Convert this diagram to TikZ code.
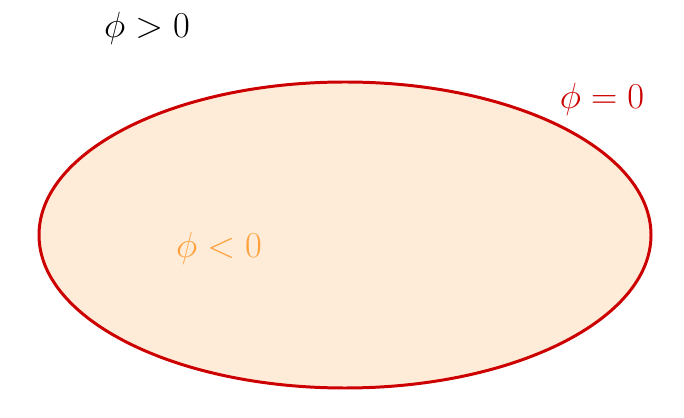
\documentclass[tikz,border=0pt]{standalone}
\usetikzlibrary{positioning,shapes.geometric}
\definecolor{bdred}{RGB}{204,0,0}
\definecolor{inorange}{RGB}{255,160,60}
\definecolor{infill}{RGB}{255,236,216}
\tikzset{lbl/.style={font=\huge}}
\tikzset{boundary/.style={draw=bdred,fill=infill,line width=1.7pt}}

\begin{document}
\begin{tikzpicture}
        \useasboundingbox (0,0) rectangle (13.68,8.34);
        \node[boundary,ellipse,minimum width=12.24cm,minimum height=6.12cm,inner sep=0pt] (region) at (6.9,3.64) {};

        \node[lbl] (outside) at (2.94,7.78) {$\phi > 0$};
        \node[lbl,text=bdred] (border) at (12.04,6.36) {$\phi = 0$};
        \node[lbl,text=inorange] (inside) at (4.38,3.38) {$\phi < 0$};
    \end{tikzpicture}
\end{document}
